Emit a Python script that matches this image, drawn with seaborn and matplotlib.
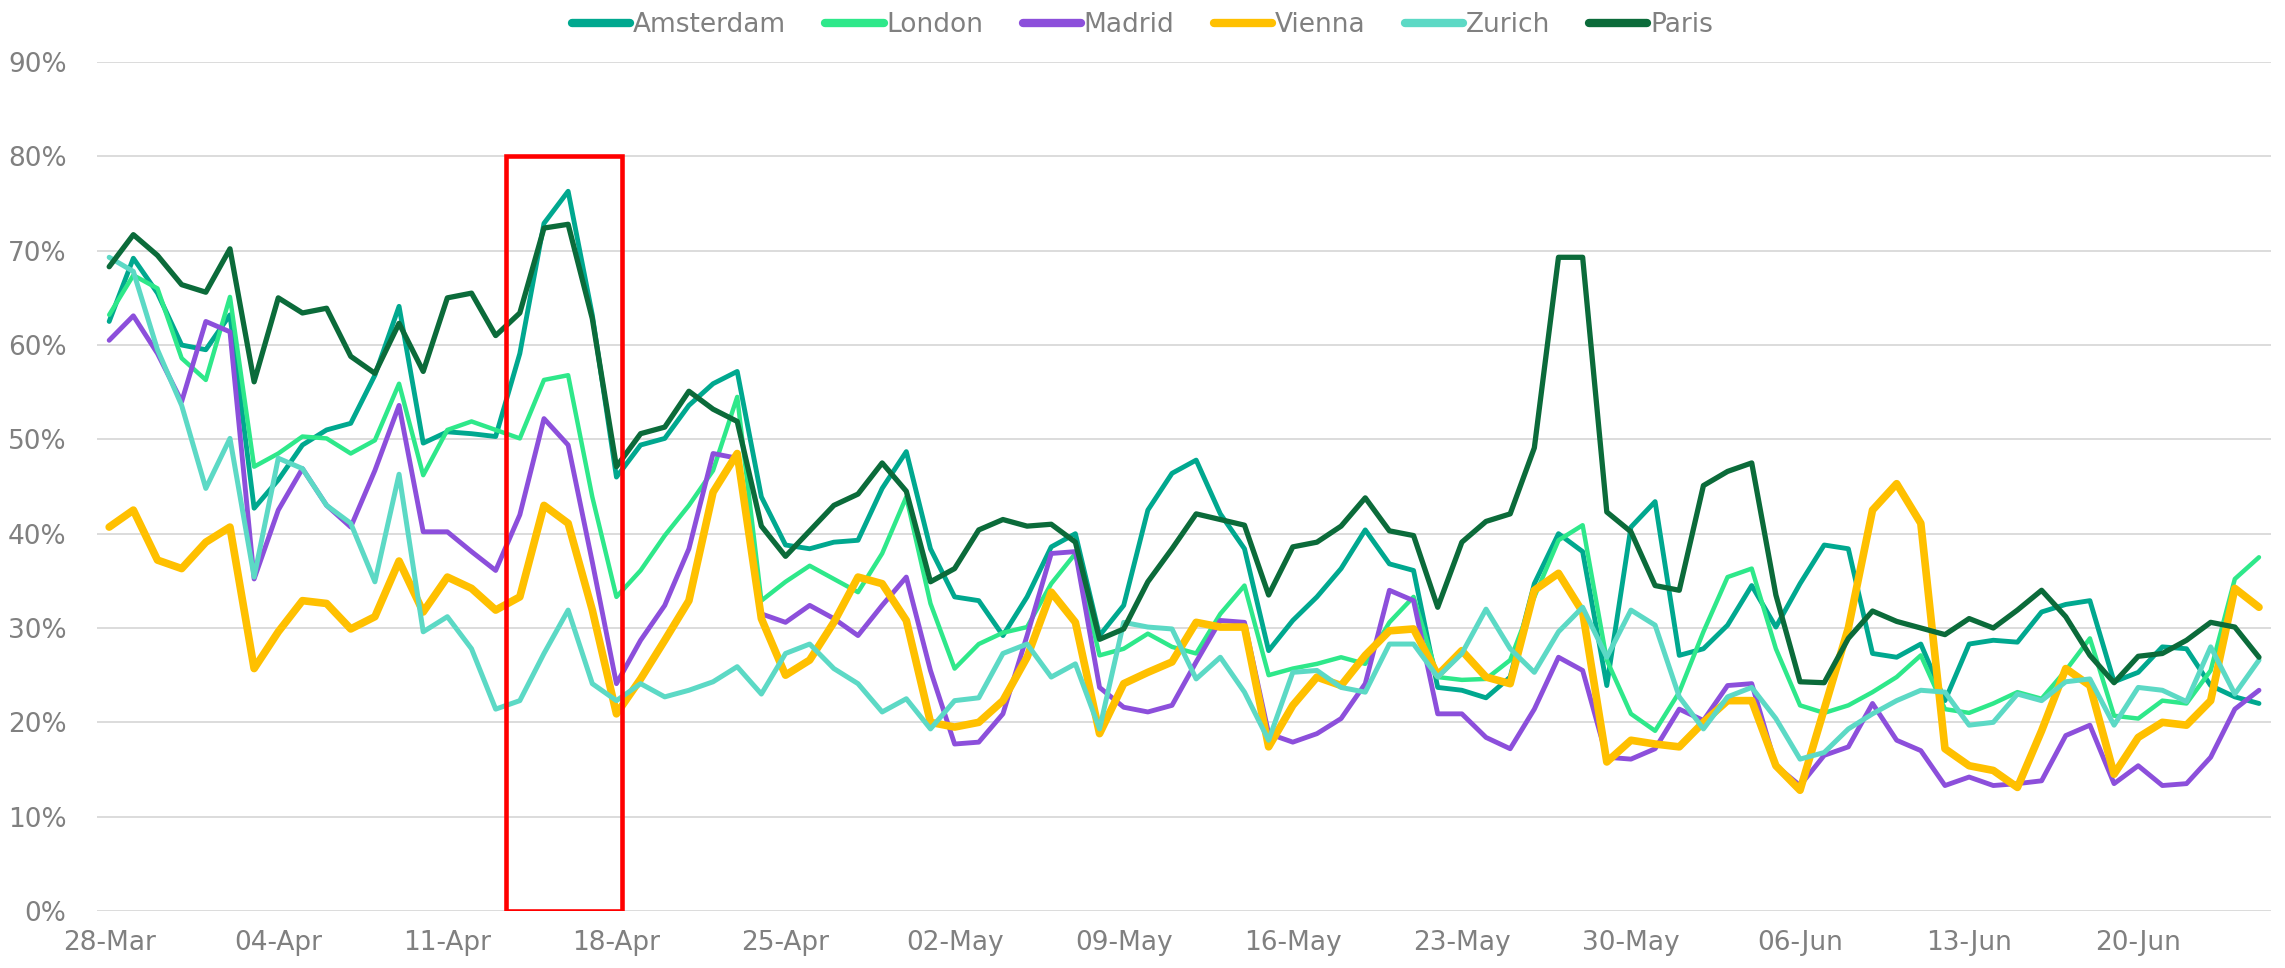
import numpy as np
import pandas as pd
import matplotlib
matplotlib.use('Agg')
import matplotlib.pyplot as plt
import matplotlib.dates as mdates
from matplotlib.patches import Rectangle
from matplotlib.ticker import PercentFormatter
import seaborn as sns

# Daily values (%), 28-Mar .. 25-Jun
dates = pd.date_range('2021-03-28', periods=90, freq='D')

amsterdam = [62.5, 69.2, 65.5, 60.0, 59.5, 63.2, 42.7, 45.7, 49.4, 51.0, 51.7, 56.8, 64.1, 49.6, 50.8, 50.6, 50.3, 59.1,
             72.9, 76.3, 63.2, 46.0, 49.4, 50.1, 53.6, 55.9, 57.2, 43.9, 38.8, 38.4, 39.1, 39.3, 44.8, 48.7, 38.4, 33.3,
             32.9, 29.2, 33.3, 38.6, 40.0, 29.2, 32.4, 42.5, 46.4, 47.8, 42.1, 38.4, 27.6, 30.8, 33.3, 36.3, 40.4, 36.8,
             36.1, 23.7, 23.4, 22.6, 24.8, 34.7, 40.0, 38.1, 23.9, 40.7, 43.4, 27.1, 27.8, 30.3, 34.5, 30.1, 34.7, 38.8,
             38.4, 27.3, 26.9, 28.3, 22.3, 28.3, 28.7, 28.5, 31.7, 32.5, 32.9, 24.3, 25.3, 28.0, 27.8, 23.9, 22.7, 22.0]
london = [63.2, 67.4, 66.0, 58.6, 56.3, 65.1, 47.1, 48.5, 50.3, 50.1, 48.5, 49.9, 55.9, 46.2, 51.0, 51.9, 51.0, 50.1,
          56.3, 56.8, 43.9, 33.3, 36.1, 39.8, 43.0, 46.7, 54.5, 32.9, 34.9, 36.6, 35.2, 33.8, 37.9, 43.9, 32.6, 25.7,
          28.3, 29.5, 30.1, 34.7, 37.9, 27.1, 27.8, 29.4, 28.0, 27.3, 31.5, 34.5, 25.0, 25.7, 26.2, 26.9, 26.2, 30.6,
          33.3, 24.8, 24.5, 24.6, 26.6, 33.3, 39.3, 40.9, 26.6, 20.9, 19.1, 23.2, 29.6, 35.4, 36.3, 27.8, 21.8, 21.0,
          21.8, 23.2, 24.8, 27.1, 21.4, 21.0, 22.0, 23.2, 22.5, 25.5, 28.9, 20.7, 20.4, 22.3, 22.0, 25.5, 35.2, 37.5]
madrid = [60.5, 63.1, 59.1, 54.0, 62.5, 61.4, 35.2, 42.5, 46.9, 43.0, 40.7, 46.7, 53.6, 40.2, 40.2, 38.1, 36.1, 42.0,
          52.2, 49.4, 37.0, 24.1, 28.7, 32.4, 38.4, 48.5, 48.0, 31.5, 30.6, 32.4, 31.0, 29.2, 32.4, 35.4, 25.5, 17.7,
          17.9, 20.9, 29.2, 37.9, 38.1, 23.7, 21.6, 21.1, 21.8, 26.4, 30.8, 30.6, 18.8, 17.9, 18.8, 20.4, 24.1, 34.0,
          32.9, 20.9, 20.9, 18.4, 17.2, 21.4, 26.9, 25.5, 16.3, 16.1, 17.2, 21.4, 20.2, 23.9, 24.1, 15.4, 13.3, 16.5,
          17.4, 22.0, 18.1, 17.0, 13.3, 14.2, 13.3, 13.5, 13.8, 18.6, 19.7, 13.5, 15.4, 13.3, 13.5, 16.3, 21.4, 23.4]
vienna = [40.7, 42.5, 37.2, 36.3, 39.1, 40.7, 25.7, 29.6, 32.9, 32.6, 29.9, 31.2, 37.1, 31.7, 35.4, 34.2, 31.9, 33.3,
          43.0, 41.1, 31.9, 20.9, 24.6, 28.7, 32.9, 44.4, 48.5, 31.0, 25.0, 26.6, 30.6, 35.4, 34.7, 30.8, 20.0, 19.5,
          20.0, 22.3, 26.9, 33.8, 30.6, 18.8, 24.1, 25.3, 26.4, 30.6, 30.1, 30.1, 17.4, 21.8, 24.8, 23.9, 27.1, 29.7,
          29.9, 25.0, 27.6, 24.8, 24.1, 34.0, 35.8, 31.7, 15.8, 18.1, 17.7, 17.4, 20.0, 22.3, 22.3, 15.4, 12.8, 21.4,
          30.0, 42.5, 45.3, 41.1, 17.2, 15.4, 14.9, 13.1, 19.1, 25.7, 23.9, 14.5, 18.4, 20.0, 19.7, 22.3, 34.2, 32.2]
zurich = [69.3, 67.8, 59.5, 53.6, 44.8, 50.1, 35.4, 48.0, 46.9, 43.0, 41.1, 34.9, 46.3, 29.6, 31.2, 27.8, 21.4, 22.3,
          27.3, 31.9, 24.1, 22.3, 24.1, 22.7, 23.4, 24.3, 25.9, 23.0, 27.3, 28.3, 25.7, 24.1, 21.1, 22.5, 19.3, 22.3,
          22.6, 27.3, 28.3, 24.8, 26.2, 19.3, 30.6, 30.1, 29.9, 24.6, 26.9, 23.2, 18.1, 25.3, 25.5, 23.7, 23.2, 28.3,
          28.3, 24.8, 27.3, 32.0, 27.8, 25.3, 29.6, 32.2, 26.9, 31.9, 30.3, 22.7, 19.3, 22.7, 23.7, 20.4, 16.1, 16.8,
          19.3, 20.9, 22.3, 23.4, 23.2, 19.7, 20.0, 23.0, 22.3, 24.3, 24.6, 19.7, 23.7, 23.4, 22.2, 28.0, 23.0, 26.6]
paris = [68.3, 71.7, 69.5, 66.4, 65.6, 70.2, 56.1, 65.0, 63.4, 63.9, 58.8, 57.0, 62.3, 57.2, 65.0, 65.5, 61.0, 63.4,
         72.4, 72.8, 62.8, 47.1, 50.6, 51.3, 55.1, 53.2, 51.9, 40.8, 37.6, 40.3, 43.0, 44.2, 47.5, 44.5, 34.9, 36.3,
         40.4, 41.5, 40.8, 41.0, 39.1, 28.8, 29.9, 34.9, 38.4, 42.1, 41.5, 40.9, 33.5, 38.6, 39.1, 40.8, 43.8, 40.3,
         39.8, 32.2, 39.1, 41.3, 42.1, 49.1, 69.3, 69.3, 42.3, 40.2, 34.5, 34.0, 45.1, 46.6, 47.5, 33.5, 24.3, 24.2,
         28.9, 31.8, 30.7, 30.0, 29.3, 31.0, 30.0, 31.9, 34.0, 31.2, 27.1, 24.2, 27.0, 27.3, 28.7, 30.6, 30.1, 26.9]

cities = ['Amsterdam', 'London', 'Madrid', 'Vienna', 'Zurich', 'Paris']
series = [amsterdam, london, madrid, vienna, zurich, paris]
colors = ['#00A88F', '#2EE88A', '#8C4FDB', '#FFC000', '#5CD9C5', '#0B6B3A']
widths = [3.5, 3.2, 3.5, 5.5, 3.6, 3.8]

# highlighted window
box_start = pd.Timestamp('2021-04-13 10:30')
box_end = pd.Timestamp('2021-04-18 06:00')
box_top = 80

sns.set_theme(style='white')
plt.rcParams['font.family'] = ['DejaVu Sans']
grey = '#808080'

fig = plt.figure(figsize=(22.85, 9.68), dpi=100)
ax = fig.add_axes([0.0425, 0.0589, 0.9514, 0.877])

for name, vals, c, lw in zip(cities, series, colors, widths):
    sns.lineplot(x=dates, y=vals, color=c, linewidth=lw, label=name, ax=ax,
                 solid_joinstyle='round', solid_capstyle='round')

x0 = mdates.date2num(box_start)
x1 = mdates.date2num(box_end)
ax.add_patch(Rectangle((x0, 0), x1 - x0, box_top, fill=False,
                       edgecolor='#FF0000', linewidth=3.3, zorder=10))

ax.set_ylim(0, 90)
ax.set_yticks(range(0, 91, 10))
ax.yaxis.set_major_formatter(PercentFormatter(100, decimals=0))
ax.set_xlim(dates[0] - pd.Timedelta(hours=12), dates[-1] + pd.Timedelta(hours=12))
ax.set_xticks(dates[::7])
ax.xaxis.set_major_formatter(mdates.DateFormatter('%d-%b'))
ax.set_xlabel('')
ax.set_ylabel('')

ax.set_axisbelow(True)
ax.yaxis.grid(True, color='#D9D9D9', linewidth=1.3)
ax.xaxis.grid(False)
for s in ax.spines.values():
    s.set_visible(False)
ax.tick_params(axis='both', length=0, labelsize=19, labelcolor=grey)
ax.tick_params(axis='y', pad=22)
ax.tick_params(axis='x', pad=14)

handles, labels = ax.get_legend_handles_labels()
ax.get_legend().remove()
leg = fig.legend(handles, labels, loc='upper center', bbox_to_anchor=(0.5, 1.012), ncol=6,
                 frameon=False, fontsize=19, handlelength=2.2, handletextpad=0.1, columnspacing=1.5)
for line in leg.get_lines():
    line.set_linewidth(6)
    line.set_solid_capstyle('round')
for t in leg.get_texts():
    t.set_color(grey)

fig.savefig('out.png', dpi=100)
